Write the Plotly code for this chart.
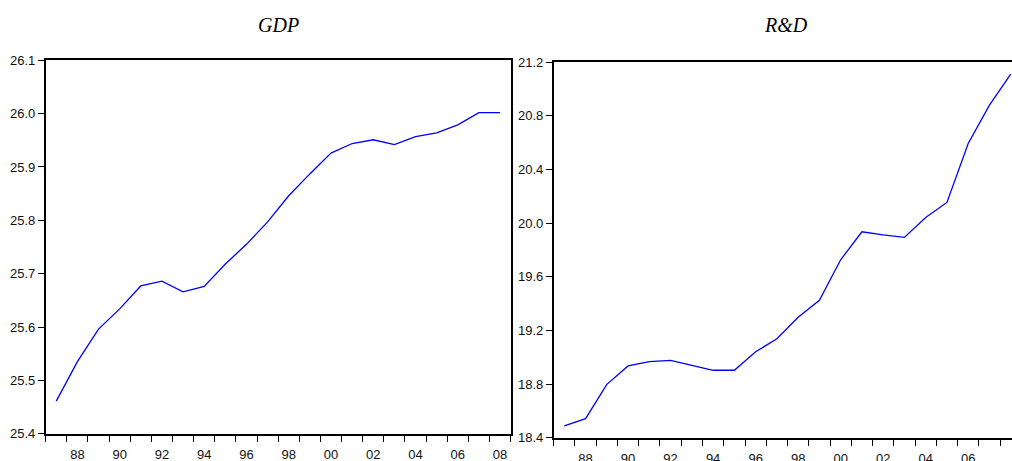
import plotly.graph_objects as go

years = list(range(1987, 2009))
gdp = [25.461, 25.535, 25.596, 25.634, 25.677, 25.686, 25.666, 25.676, 25.718,
       25.755, 25.797, 25.846, 25.887, 25.926, 25.944, 25.951, 25.942, 25.957,
       25.964, 25.979, 26.002, 26.002]
rd = [18.489, 18.542, 18.798, 18.935, 18.967, 18.977, 18.940, 18.903, 18.903,
      19.041, 19.138, 19.298, 19.425, 19.727, 19.936, 19.912, 19.894, 20.043,
      20.155, 20.595, 20.881, 21.112]

label_years = list(range(1988, 2009, 2))
label_text = [f"{y % 100:02d}" for y in label_years]
boundaries = [y - 0.5 for y in range(1987, 2010)]

gdp_ticks = [25.4, 25.5, 25.6, 25.7, 25.8, 25.9, 26.0, 26.1]
rd_ticks = [18.4, 18.8, 19.2, 19.6, 20.0, 20.4, 20.8, 21.2]

titles = ["GDP", "R&D"]

font_ticks = dict(family="Liberation Sans, Arial, sans-serif", size=13, color="#111111")

fig = go.Figure()
fig.add_trace(go.Scatter(x=years, y=gdp, mode="lines",
                         line=dict(color="#0000FF", width=1.3),
                         xaxis="x", yaxis="y", showlegend=False, hoverinfo="skip"))
fig.add_trace(go.Scatter(x=years, y=rd, mode="lines",
                         line=dict(color="#0000FF", width=1.3),
                         xaxis="x2", yaxis="y2", showlegend=False, hoverinfo="skip"))

def xaxis_cfg(domain, rng, anchor):
    return dict(
        domain=domain, range=rng, anchor=anchor, automargin=False,
        showline=True, linecolor="black", linewidth=1.5, mirror=True,
        showgrid=False, zeroline=False,
        tickmode="array", tickvals=label_years, ticktext=label_text,
        ticks="outside", ticklen=8, tickcolor="rgba(0,0,0,0)",
        tickfont=font_ticks,
        minor=dict(tickmode="array", tickvals=boundaries, ticks="outside",
                   ticklen=7, tickcolor="black", tickwidth=1.2, showgrid=False),
    )

def yaxis_cfg(domain, rng, anchor, ticks, fmt, mirror):
    return dict(
        domain=domain, range=rng, anchor=anchor, automargin=False,
        showline=True, linecolor="black", linewidth=1.5, mirror=mirror,
        showgrid=False, zeroline=False,
        tickmode="array", tickvals=ticks, ticktext=[fmt.format(t) for t in ticks],
        ticks="outside", ticklen=6, tickcolor="black", tickwidth=1.2,
        tickfont=font_ticks,
    )

fig.update_layout(
    width=1012, height=461,
    margin=dict(l=0, r=0, t=0, b=0, pad=0),
    paper_bgcolor="white", plot_bgcolor="white",
    xaxis=xaxis_cfg([0.04516, 0.50455], [1986.5, 2008.5], "y"),
    yaxis=yaxis_cfg([0.05922, 0.86920], [25.4, 26.1], "x", gdp_ticks, "{:.1f}", True),
    xaxis2=xaxis_cfg([0.54713, 1.0], [1986.5, 2008.06], "y2"),
    yaxis2=yaxis_cfg([0.05054, 0.86486], [18.4, 21.2], "x2", rd_ticks, "{:.1f}", False),
    annotations=[
        dict(text=titles[0], x=278 / 1012, y=1 - 25 / 461, xref="paper", yref="paper",
             showarrow=False, xanchor="center", yanchor="middle",
             font=dict(family="Liberation Serif, Times New Roman, serif", size=20,
                       color="black", style="italic")),
        dict(text=titles[1], x=786 / 1012, y=1 - 25 / 461, xref="paper", yref="paper",
             showarrow=False, xanchor="center", yanchor="middle",
             font=dict(family="Liberation Serif, Times New Roman, serif", size=20,
                       color="black", style="italic")),
    ],
)

fig.write_html(
    "out.html",
    config={"displayModeBar": False},
    post_script=(
        "document.documentElement.style.margin='0px';"
        "document.body.style.margin='0px';document.body.style.padding='0px';"
        "document.body.style.overflow='hidden';"
        "var d=document.getElementById('{plot_id}');"
        "d.style.position='fixed';d.style.top='0px';d.style.left='0px';"
    ),
)
